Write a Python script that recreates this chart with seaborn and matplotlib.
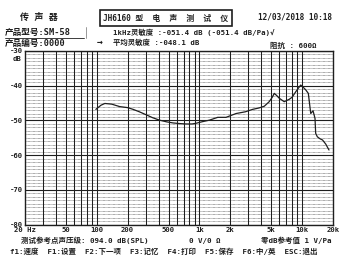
import matplotlib
matplotlib.use("Agg")
import matplotlib.pyplot as plt
import seaborn as sns
import numpy as np
import pandas as pd
from matplotlib.ticker import FixedLocator, NullLocator, NullFormatter

# ---- data ----
freq_hz = [98, 110, 120, 140, 167, 200, 226, 260, 305, 350, 408, 480, 550, 650,
           742, 850, 928, 1050, 1253, 1506, 1816, 2274, 2800, 3300, 3800, 4280,
           4780, 5100, 5360, 5650, 5990, 6700, 7500, 8000, 8690, 9300, 9700,
           10300, 10860, 11500, 12140, 12780, 13360, 13560, 14080, 15000, 15800,
           17000, 18280]
level_db = [-46.8, -45.6, -45.1, -45.3, -46.0, -46.3, -46.8, -47.5, -48.4, -49.2,
            -49.9, -50.4, -50.7, -50.9, -51.0, -51.0, -50.8, -50.4, -49.9, -49.1,
            -49.1, -48.0, -47.5, -46.8, -46.4, -45.9, -44.6, -43.4, -42.2, -42.8,
            -43.6, -44.6, -43.9, -43.3, -41.7, -40.5, -39.8, -40.5, -41.2, -42.2,
            -48.0, -47.2, -49.4, -53.7, -54.7, -55.3, -55.6, -56.8, -58.5]

x_tick_vals = [20, 50, 100, 200, 500, 1000, 2000, 5000, 10000, 20000]
x_tick_labels = ["20 Hz", "50", "100", "200", "500", "1k", "2k", "5k", "10k", "20k"]
y_tick_vals = [-30, -40, -50, -60, -70, -80]
y_tick_labels = ["-30", "-40", "-50", "-60", "-70", "-80"]
vgrid_freqs = [30, 40, 50, 60, 70, 80, 90, 100, 200, 300, 400, 500, 600, 700, 800,
               900, 1000, 2000, 3000, 4000, 5000, 6000, 7000, 8000, 9000, 10000]
key_items = ["f1:速度", "F1:设置", "F2:下一项", "F3:记忆", "F4:打印", "F5:保存",
             "F6:中/英", "ESC:退出"]

sns.set_style("white")
plt.rcParams['font.family'] = ['DejaVu Sans Mono', 'Noto Sans CJK SC']
INK = "#1e1e1e"

W, H = 350, 261
fig = plt.figure(figsize=(W / 100, H / 100), dpi=100)
fig.patch.set_facecolor("white")
ax = fig.add_axes([25 / W, 1 - 224.7 / H, 308 / W, (224.7 - 51) / H])

df = pd.DataFrame({"freq": freq_hz, "level": level_db})
sns.lineplot(data=df, x="freq", y="level", ax=ax, color=INK, linewidth=0.9,
             estimator=None, sort=False, zorder=5)

ax.set_xscale("log")
ax.set_xlim(20, 20000)
ax.set_ylim(-80, -30)

# grid: dotted every 1 dB, solid every 10 dB, solid verticals
for v in np.arange(-79, -30, 1):
    if v % 10 != 0:
        ax.axhline(v, color="#555555", lw=0.45, ls=(0, (1.2, 0.8)), zorder=1)
for v in y_tick_vals:
    ax.axhline(v, color=INK, lw=0.8, zorder=2)
for f in vgrid_freqs:
    ax.axvline(f, color=INK, lw=0.75, zorder=2)

ax.xaxis.set_major_locator(FixedLocator(x_tick_vals))
ax.set_xticklabels(x_tick_labels)
ax.xaxis.set_minor_locator(NullLocator())
ax.xaxis.set_minor_formatter(NullFormatter())
ax.set_yticks(y_tick_vals)
ax.set_yticklabels(y_tick_labels)
ax.tick_params(axis="both", length=0, labelsize=5.2, colors=INK, pad=1.5)
for lab in ax.get_xticklabels() + ax.get_yticklabels():
    lab.set_fontweight("bold")
ax.set_xlabel("")
ax.set_ylabel("")
for s in ax.spines.values():
    s.set_color(INK)
    s.set_linewidth(1.0)

def px(x, y):
    return x / W, 1 - y / H

def t(x, y, s, size=5.6, ha="left", **kw):
    fig.text(*px(x, y), s, fontsize=size, ha=ha, va="center",
             color=INK, fontweight="bold", **kw)

t(13, 59, "dB", size=5.2)

# header
t(20, 17, "传 声 器", size=6.5)
fig.text(*px(166, 18), "JH6160 型  电  声  测  试  仪", fontsize=5.6, ha="center",
         va="center", color=INK, fontweight="bold",
         bbox=dict(boxstyle="square,pad=0.4", fc="white", ec=INK, lw=1.2))
t(258, 17, "12/03/2018 10:18", size=5.6)
t(5, 32, "产品型号:SM-58", size=6.2)
fig.add_artist(plt.Line2D([5 / W, 84 / W], [1 - 38 / H, 1 - 38 / H], color=INK, lw=0.6))
fig.add_artist(plt.Line2D([86 / W, 86 / W], [1 - 27 / H, 1 - 38 / H], color="#888888", lw=0.6))
t(5, 43, "产品编号:0000", size=6.2)
t(97, 42, "→", size=7)
t(113, 32, "1kHz灵敏度 :-051.4 dB (-051.4 dB/Pa)√", size=5.3)
t(113, 42, "平均灵敏度 :-048.1 dB", size=5.3)
t(270, 45, "阻抗 : 600Ω", size=5.4)

# footer
t(21, 240, "测试参考点声压级: 094.0 dB(SPL)         0 V/0 Ω         零dB参考值 1 V/Pa", size=5.4)
t(10, 251, "  ".join(key_items), size=5.4)

fig.savefig("out.png", dpi=100, facecolor="white")
